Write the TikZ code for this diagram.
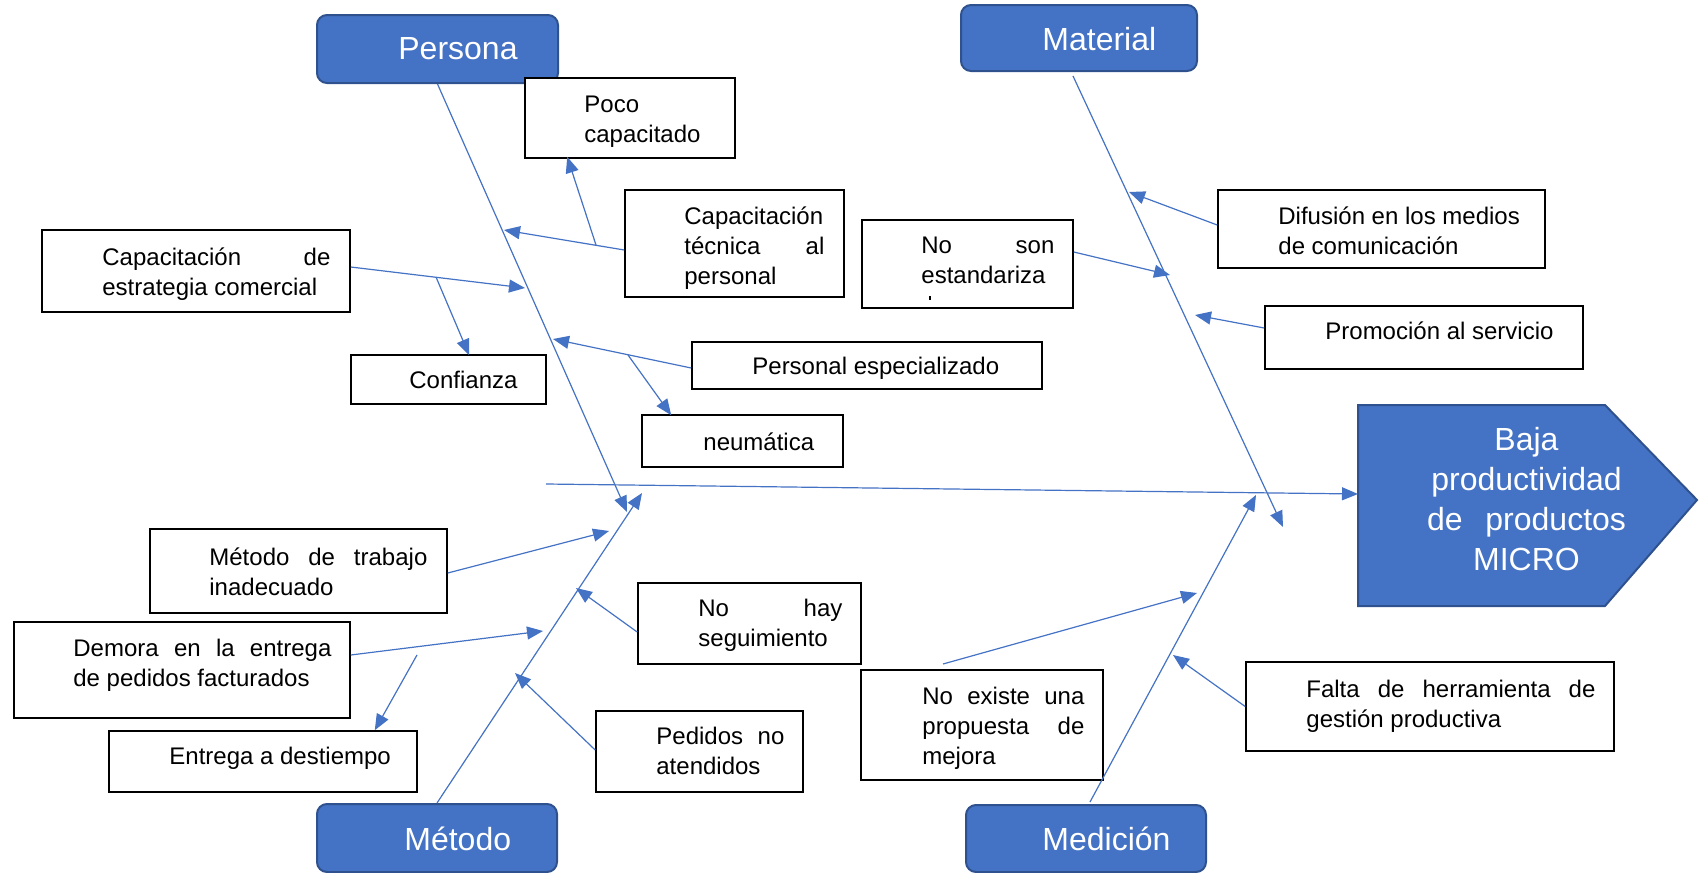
\documentclass[tikz,border=0pt]{standalone}
\usepackage{fontspec}
\setmainfont{Liberation Sans}
\usetikzlibrary{arrows.meta,fit,calc}
\definecolor{fishblue}{HTML}{4472C4}
\definecolor{fishedge}{HTML}{2F528F}
\begin{document}
\begin{tikzpicture}[x=0.5pt,y=-0.5pt,
  catbox/.style={draw=fishedge,line width=1pt,fill=fishblue,rounded corners=5pt,inner sep=0pt},
  causebox/.style={draw=black,line width=0.8pt,fill=white,inner sep=0pt},
  cattext/.style={anchor=base west,inner sep=0pt,text=white,font=\fontsize{16}{20}\selectfont},
  causetext/.style={anchor=north west,inner sep=0pt,align=left,font=\fontsize{12}{15}\selectfont,execute at begin node=\strut},
  bone/.style={draw=fishblue,line width=0.6pt,-{Triangle[length=8pt,width=6.5pt]}},
]
\useasboundingbox (0,0) rectangle (1699,873);

% ---- effect (head of the fish) ----
\path[draw=fishedge,fill=fishblue,line width=1pt]
  (1358,405) -- (1605,405) -- (1697,500) -- (1605,606) -- (1358,606) -- cycle;
\node[anchor=north,align=center,inner sep=0pt,text=white,
      font=\fontsize{16}{20}\selectfont,execute at begin node=\strut]
  (effect) at (1526.5,427)
  {Baja\\productividad\\\makebox[99.5pt][s]{de productos}\\MICRO};

% ---- category boxes ----
\node[catbox,fit={(317,15) (558,83)}] (persona) {};
\node[cattext] (persona-t) at (398,59) {Persona};
\node[catbox,fit={(961,5) (1197,71)}] (material) {};
\node[cattext] (material-t) at (1042,50) {Material};
\node[catbox,fit={(317,804) (557,872)}] (metodo) {};
\node[cattext] (metodo-t) at (404,850) {Método};
\node[catbox,fit={(966,805) (1206,872)}] (medicion) {};
\node[cattext] (medicion-t) at (1042,850) {Medición};

% ---- cause boxes ----
\node[causebox,fit={(525,78) (735,158)}] (poco) {};
\node[causebox,fit={(625,190) (844,297)}] (captec) {};
\node[causebox,fit={(42,230) (350,312)}] (capest) {};
\node[causebox,fit={(351,355) (546,404)}] (conf) {};
\node[causebox,fit={(692,342) (1042,389)}] (persesp) {};
\node[causebox,fit={(642,415) (843,467)}] (neum) {};
\node[causebox,fit={(862,220) (1073,308)}] (noson) {};
\node[causebox,fit={(1218,190) (1545,268)}] (difu) {};
\node[causebox,fit={(1265,306) (1583,369)}] (promo) {};
\node[causebox,fit={(150,529) (447,613)}] (mettrab) {};
\node[causebox,fit={(14,622) (350,718)}] (demora) {};
\node[causebox,fit={(109,731) (417,792)}] (entrega) {};
\node[causebox,fit={(638,583) (861,664)}] (nohay) {};
\node[causebox,fit={(596,711) (803,792)}] (pedidos) {};
\node[causebox,fit={(861,670) (1103,780)}] (noexiste) {};
\node[causebox,fit={(1246,662) (1614,751)}] (falta) {};

% ---- cause texts ----
\node[causetext] (poco-t) at (584,96) {Poco\\capacitado};
\node[causetext] (captec-t) at (684,206) {Capacitación\\\makebox[70pt][s]{técnica al}\\personal};
\node[causetext] (capest-t) at (102,247) {\makebox[114pt][s]{Capacitación de}\\estrategia comercial};
\node[causetext] (conf-t) at (409,367) {Confianza};
\node[causetext] (persesp-t) at (752,353) {Personal especializado};
\node[causetext] (neum-t) at (703,429) {neumática};
\node[causetext] (noson-t) at (921,237) {\makebox[66.5pt][s]{No son}\\estandariza};
\fill (929,296) rectangle (931,300);
\node[causetext] (difu-t) at (1278,206) {Difusión en los medios\\de comunicación};
\node[causetext] (promo-t) at (1325,318) {Promoción al servicio};
\node[causetext] (mettrab-t) at (209,547) {\makebox[109pt][s]{Método de trabajo}\\inadecuado};
\node[causetext] (demora-t) at (73,639) {\makebox[129pt][s]{Demora en la entrega}\\de pedidos facturados};
\node[causetext] (entrega-t) at (169,743) {Entrega a destiempo};
\node[causetext] (nohay-t) at (698,599) {\makebox[72pt][s]{No hay}\\seguimiento};
\node[causetext] (pedidos-t) at (656,727) {\makebox[64pt][s]{Pedidos no}\\atendidos};
\node[causetext] (noexiste-t) at (922,687) {\makebox[81pt][s]{No existe una}\\\makebox[81pt][s]{propuesta de}\\mejora};
\node[causetext] (falta-t) at (1306,680) {\makebox[144.5pt][s]{Falta de herramienta de}\\gestión productiva};

% ---- points on the bones ----
\coordinate (spine-start) at (546,484);
\coordinate (spine-end) at (1358,494);
\coordinate (tipP) at (627,512);
\coordinate (tipT) at (642,493);
\coordinate (tipM) at (1283,527);
\coordinate (tipN) at (1256,495);
\coordinate (pP1) at (504,230);
\coordinate (pP2) at (525,288);
\coordinate (pP3) at (553,339);
\coordinate (pM1) at (1129,192);
\coordinate (pM2) at (1170,275);
\coordinate (pM3) at (1195,315);
\coordinate (pT1) at (609,531);
\coordinate (pT2) at (543,631);
\coordinate (pT3) at (576,588);
\coordinate (pT4) at (515,673);
\coordinate (pN1) at (1197,593);
\coordinate (pN2) at (1173,655);
% branch starts
\coordinate (bP1) at (596,245);
\coordinate (bP2) at (436,277);
\coordinate (bP3) at (628,355);
\coordinate (bT2) at (417,655);
\coordinate (bN1) at (943,664);

% ---- spine and main bones ----
\draw[bone] (spine-start) -- (spine-end);
\draw[bone] (persona.south) -- (tipP);
\draw[bone] (metodo.north) -- (tipT);
\draw[bone] ($(material.south)+(-6,4)$) -- (tipM);
\draw[bone] ($(medicion.north)+(4,-2)$) -- (tipN);

% ---- Persona causes ----
\draw[bone] ($(captec.west)+(0,6.5)$) -- (pP1);
\draw[bone] (bP1) -- ($(poco.south west)+(43,-2)$);
\draw[bone] ($(capest.east)+(0,-4)$) -- (pP2);
\draw[bone] (bP2) -- ($(conf.north west)+(119,1)$);
\draw[bone] ($(persesp.west)+(0,2.5)$) -- (pP3);
\draw[bone] (bP3) -- ($(neum.north west)+(30,1)$);

% ---- Material causes ----
\draw[bone] ($(difu.west)+(0,-4)$) -- (pM1);
\draw[bone] ($(noson.east)+(0,-12)$) -- (pM2);
\draw[bone] ($(promo.west)+(0,-9.5)$) -- (pM3);

% ---- Metodo causes ----
\draw[bone] ($(mettrab.east)+(0,2)$) -- (pT1);
\draw[bone] ($(demora.east)+(0,-15)$) -- (pT2);
\draw[bone] (bT2) -- ($(entrega.north east)+(-43,0)$);
\draw[bone] ($(nohay.west)+(0,8.5)$) -- (pT3);
\draw[bone] ($(pedidos.west)+(0,-1.5)$) -- (pT4);

% ---- Medicion causes ----
\draw[bone] (bN1) -- (pN1);
\draw[bone] (falta.west) -- (pN2);
\end{tikzpicture}
\end{document}
